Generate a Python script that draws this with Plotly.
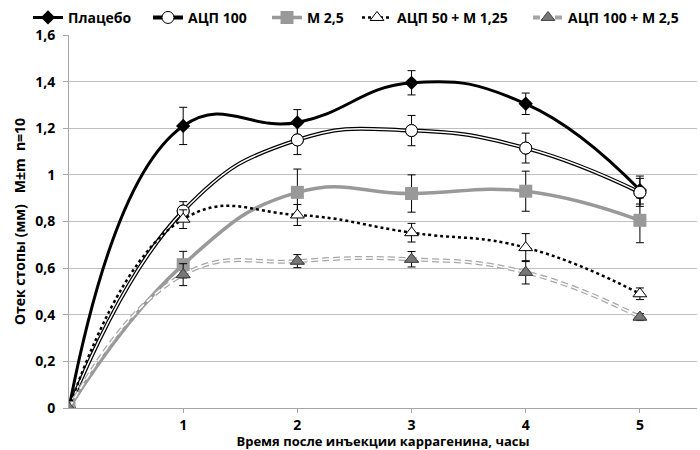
import plotly.graph_objects as go

hours = [0, 1, 2, 3, 4, 5]
placebo = [0, 1.21, 1.225, 1.395, 1.305, 0.935]
placebo_err = [0, 0.08, 0.055, 0.052, 0.046, 0.06]
acp100 = [0, 0.845, 1.15, 1.19, 1.115, 0.925]
acp100_err = [0, 0.04, 0.063, 0.065, 0.064, 0.06]
m25 = [0, 0.615, 0.925, 0.92, 0.93, 0.805]
m25_err = [0, 0.057, 0.1, 0.08, 0.086, 0.096]
acp50_m125 = [0, 0.81, 0.828, 0.752, 0.688, 0.49]
acp50_m125_err = [0, 0.04, 0.045, 0.04, 0.06, 0.025]
acp100_m25 = [0, 0.572, 0.63, 0.638, 0.582, 0.39]
acp100_m25_err = [0, 0.047, 0.028, 0.033, 0.05, 0.015]

ytick_vals = [0, 0.2, 0.4, 0.6, 0.8, 1.0, 1.2, 1.4, 1.6]
ytick_text = ["0", "0,2", "0,4", "0,6", "0,8", "1", "1,2", "1,4", "1,6"]
xtick_vals = [1, 2, 3, 4, 5]

FONT = "Liberation Sans Narrow, Open Sans"
SM = 1.3
L, R, T, B, W, H = 69, 3, 35, 42, 700, 450
PW = W - L - R

def eb(arr):
    return dict(type="data", array=arr, color="#000000", thickness=1, width=4)

fig = go.Figure()

# Плацебо
fig.add_trace(go.Scatter(
    x=hours, y=placebo, name="Плацебо", mode="lines+markers", legend="legend",
    line=dict(color="#000000", width=3, shape="spline", smoothing=SM),
    marker=dict(symbol="diamond", size=11, color="#000000"),
    error_y=eb(placebo_err)))

# АЦП 100 (double line)
fig.add_trace(go.Scatter(
    x=hours, y=acp100, name="АЦП 100", mode="lines+markers", legend="legend2",
    line=dict(color="#000000", width=4, shape="spline", smoothing=SM),
    marker=dict(symbol="circle", size=12, color="#ffffff", line=dict(color="#000000", width=1)),
    error_y=eb(acp100_err)))
fig.add_trace(go.Scatter(
    x=hours, y=acp100, showlegend=False, mode="lines", hoverinfo="skip",
    line=dict(color="#ffffff", width=1.5, shape="spline", smoothing=SM)))
fig.add_trace(go.Scatter(
    x=hours, y=acp100, showlegend=False, mode="markers", hoverinfo="skip",
    marker=dict(symbol="circle", size=12, color="#ffffff", line=dict(color="#000000", width=1))))

# М 2,5
fig.add_trace(go.Scatter(
    x=hours, y=m25, name="М 2,5", mode="lines+markers", legend="legend3",
    line=dict(color="#999999", width=3.5, shape="spline", smoothing=SM),
    marker=dict(symbol="square", size=13, color="#999999"),
    error_y=eb(m25_err)))

# АЦП 50 + М 1,25
fig.add_trace(go.Scatter(
    x=hours, y=acp50_m125, name="АЦП 50 + М 1,25", mode="lines+markers", legend="legend4",
    line=dict(color="#000000", width=2.5, dash="dot", shape="spline", smoothing=SM),
    marker=dict(symbol="triangle-up", size=12, color="#ffffff", line=dict(color="#000000", width=1)),
    error_y=eb(acp50_m125_err)))

# АЦП 100 + М 2,5 (hollow dashed line)
fig.add_trace(go.Scatter(
    x=hours, y=acp100_m25, name="АЦП 100 + М 2,5", mode="lines+markers", legend="legend5",
    line=dict(color="#a6a6a6", width=4, dash="7px,4px", shape="spline", smoothing=SM),
    marker=dict(symbol="triangle-up", size=12, color="#777777", line=dict(color="#444444", width=1)),
    error_y=eb(acp100_m25_err)))
fig.add_trace(go.Scatter(
    x=hours, y=acp100_m25, showlegend=False, mode="lines", hoverinfo="skip",
    line=dict(color="#ffffff", width=1.5, dash="7px,4px", shape="spline", smoothing=SM)))
fig.add_trace(go.Scatter(
    x=hours, y=acp100_m25, showlegend=False, mode="markers", hoverinfo="skip",
    marker=dict(symbol="triangle-up", size=12, color="#777777", line=dict(color="#444444", width=1))))

legend_text_px = [68, 188, 307, 397, 568]

def leg(px):
    return dict(orientation="h", xref="paper", yref="paper",
                x=(px - 40 - L) / PW, y=1.046, xanchor="left", yanchor="middle",
                font=dict(family=FONT, size=14, color="#000000", weight="bold"),
                itemwidth=30, tracegroupgap=0, bgcolor="rgba(0,0,0,0)")

fig.update_layout(
    width=W, height=H,
    paper_bgcolor="#ffffff", plot_bgcolor="#ffffff",
    margin=dict(l=L, r=R, t=T, b=B, autoexpand=False),
    font=dict(family=FONT, size=14, color="#222222"),
    showlegend=True,
    legend=leg(legend_text_px[0]),
    legend2=leg(legend_text_px[1]),
    legend3=leg(legend_text_px[2]),
    legend4=leg(legend_text_px[3]),
    legend5=leg(legend_text_px[4]),
    xaxis=dict(range=[0, 5.5], tickvals=xtick_vals, ticktext=[str(v) for v in xtick_vals],
               automargin=False,
               showgrid=False, zeroline=False, showline=True, linecolor="#a6a6a6", linewidth=1,
               ticks="outside", ticklen=4, tickcolor="#a6a6a6",
               tickfont=dict(family=FONT, size=14, color="#000000", weight="bold"),
               title=dict(text="Время после инъекции каррагенина, часы", standoff=2,
                          font=dict(family=FONT, size=13, color="#000000", weight="bold"))),
    yaxis=dict(range=[0, 1.6], tickvals=ytick_vals, ticktext=ytick_text,
               automargin=False, ticklabelstandoff=5,
               showgrid=True, gridcolor="#bfbfbf", gridwidth=1, zeroline=False,
               showline=True, linecolor="#a6a6a6", linewidth=1,
               ticks="outside", ticklen=5, tickcolor="#a6a6a6",
               tickfont=dict(family=FONT, size=14, color="#000000", weight="bold"),
               title=dict(text="Отек стопы (мм)   M±m  n=10", standoff=6,
                          font=dict(family=FONT, size=14, color="#000000", weight="bold"))),
)

fig.write_html("out.html", config={"displayModeBar": False},
               post_script="document.body.style.margin='0';")
